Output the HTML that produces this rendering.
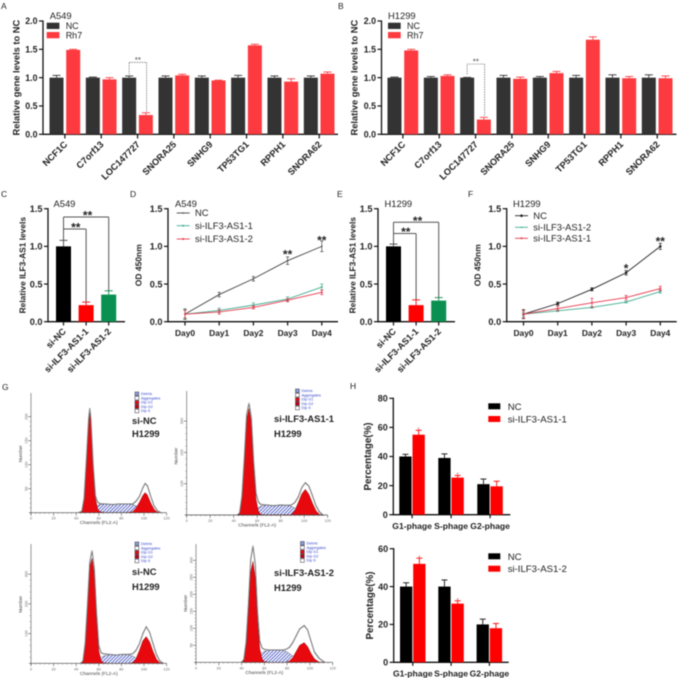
<!DOCTYPE html>
<html>
<head>
<meta charset="utf-8">
<style>
html,body{margin:0;padding:0;background:#fff;}
svg{display:block;font-family:"Liberation Sans",sans-serif;filter:blur(0.4px);}
</style>
</head>
<body>
<svg id="fig" width="681" height="678" viewBox="0 0 681 678" xmlns="http://www.w3.org/2000/svg">
<defs>
<pattern id="hatch" width="2.4" height="2.4" patternUnits="userSpaceOnUse" patternTransform="rotate(45)">
<rect width="2.4" height="2.4" fill="#fff"/>
<rect width="1" height="2.4" fill="#5a68c8"/>
</pattern>
</defs>
</svg>
<script>
// Panel A / B
var geneNames = ['NCF1C','C7orf13','LOC147727','SNORA25','SNHG9','TP53TG1','RPPH1','SNORA62'];
var a549Nc = [1,1,1,1,1,1,1,1];
var a549NcErr = [0.04,0.01,0.03,0.03,0.03,0.04,0.03,0.03];
var a549Rh7 = [1.49,0.97,0.34,1.04,0.95,1.57,0.93,1.07];
var a549Rh7Err = [0.01,0.03,0.04,0.02,0.005,0.02,0.05,0.03];
var h1299Nc = [1,1,1,1,1,1,1,1];
var h1299NcErr = [0.01,0.02,0.005,0.04,0.02,0.04,0.05,0.05];
var h1299Rh7 = [1.48,1.03,0.26,0.98,1.08,1.67,0.99,0.99];
var h1299Rh7Err = [0.02,0.02,0.04,0.03,0.03,0.05,0.03,0.04];
var geneTicks = [0,0.5,1,1.5,2];
// Panel C / E
var knockdownNames = ['si-NC','si-ILF3-AS1-1','si-ILF3-AS1-2'];
var a549Knockdown = [1,0.22,0.36];
var a549KnockdownErr = [0.08,0.04,0.05];
var h1299Knockdown = [1,0.22,0.28];
var h1299KnockdownErr = [0.03,0.07,0.04];
var levelTicks = [0,0.5,1,1.5];
// Panel D / F
var dayNames = ['Day0','Day1','Day2','Day3','Day4'];
var dNc = [0.1,0.36,0.57,0.81,1.0];
var dNcErr = [0.07,0.03,0.03,0.05,0.07];
var dSi1 = [0.1,0.15,0.22,0.30,0.46];
var dSi1Err = [0.06,0.03,0.03,0.03,0.04];
var dSi2 = [0.1,0.13,0.19,0.285,0.39];
var dSi2Err = [0.05,0.03,0.02,0.02,0.03];
var fNc = [0.1,0.24,0.43,0.65,1.0];
var fNcErr = [0.06,0.02,0.02,0.03,0.04];
var fSi2 = [0.1,0.145,0.19,0.26,0.40];
var fSi2Err = [0.03,0.01,0.01,0.01,0.02];
var fSi1 = [0.1,0.175,0.25,0.32,0.44];
var fSi1Err = [0.05,0.03,0.06,0.03,0.03];
// Panel H
var phaseNames = ['G1-phage','S-phage','G2-phage'];
var h1Nc = [40,39,21];
var h1NcErr = [1.5,2.8,3.5];
var h1Si = [55,25.5,19.5];
var h1SiErr = [3,1.5,3.5];
var h1Ticks = [0,20,40,60,80];
var h2Nc = [40,40,20];
var h2NcErr = [2,3.5,2.8];
var h2Si = [52,31,18];
var h2SiErr = [3,1.5,2.5];
var h2Ticks = [0,20,40,60];
// Panel G flow histograms
var flowLegendNames = ['Debris','Aggregates','Dip G1','Dip G2','Dip S'];
var flowChannelTicks = [0,20,40,60,80,100,120];
var flow1Channels = [42,45,47,49,51,52,53,55,57,59,61,66,72,78,84,90,93,96,99,101,103,106,109,112,115];
var flow1Total = [0,3,30,110,195,218,195,100,35,22,19,18,17,18,18,18,24,34,52,61,56,34,14,4,0];
var flow1G1 = [0,2,28,105,190,210,190,95,30,8,2,0,0,0,0,0,0,0,0,0,0,0,0,0,0];
var flow1G2 = [0,0,0,0,0,0,0,0,0,0,0,0,0,0,0,2,10,22,36,42,37,20,7,1,0];
var flow1S = [0,0,0,2,6,8,9,11,13,15,17,18,17,18,18,17,14,11,8,5,3,1,0,0,0];
var flow1Ticks = [50,100,150,200];
var flow2Channels = [43,45,47,49,51,53,55,57,59,61,63,68,74,80,85,89,92,95,98,101,104,107,110,113,116];
var flow2Total = [0,6,60,180,320,358,310,170,70,42,34,32,30,32,31,32,40,58,88,103,92,62,30,10,0];
var flow2G1 = [0,5,55,170,305,340,295,150,50,12,2,0,0,0,0,0,0,0,0,0,0,0,0,0,0];
var flow2G2 = [0,0,0,0,0,0,0,0,0,0,0,0,0,0,0,1,14,40,68,82,66,38,14,2,0];
var flow2S = [0,0,0,3,8,10,12,15,20,24,28,32,30,32,31,28,22,16,10,6,3,1,0,0,0];
var flow2Ticks = [100,200,300];
var flow3Channels = [44,46,48,50,52,54,56,58,60,62,64,69,75,81,86,90,93,96,99,102,105,108,111,114,117];
var flow3Total = [0,8,70,200,340,380,320,170,60,36,32,30,28,30,30,32,44,66,100,123,104,66,30,8,0];
var flow3G1 = [0,6,65,190,325,353,300,150,42,10,2,0,0,0,0,0,0,0,0,0,0,0,0,0,0];
var flow3G2 = [0,0,0,0,0,0,0,0,0,0,0,0,0,0,0,2,16,44,76,90,72,40,14,2,0];
var flow3S = [0,0,0,2,6,8,10,13,16,20,24,29,28,30,29,24,18,12,8,4,2,1,0,0,0];
var flow3Ticks = [100,200,300];
var flow4Channels = [40,42,44,46,48,50,52,54,56,58,60,65,70,75,79,82,85,88,91,95,98,101,104,108,113];
var flow4Total = [0,8,60,170,300,343,290,150,62,42,38,36,36,36,38,44,58,78,98,108,95,62,30,12,0];
var flow4G1 = [0,6,50,150,265,297,250,120,40,10,2,0,0,0,0,0,0,0,0,0,0,0,0,0,0];
var flow4G2 = [0,0,0,0,0,0,0,0,0,0,0,0,0,0,0,4,14,32,50,58,46,26,10,1,0];
var flow4S = [0,0,0,2,8,12,16,20,24,28,32,36,36,36,32,26,18,12,8,4,2,1,0,0,0];
var flow4Ticks = [50,100,150,200,250,300];

var svg = document.getElementById('fig');
var NS = 'http://www.w3.org/2000/svg';
function el(tag, name, props, parent) {
  var e = document.createElementNS(NS, tag);
  
  
  for (var k in props) e.setAttribute(k, props[k]);
  (parent || svg).appendChild(e);
  return e;
}
function txt(name, s, x, y, size, opts, parent) {
  var p = {x:x, y:y, 'font-size':size, fill:'#222'};
  for (var k in (opts||{})) p[k] = opts[k];
  var t = el('text', name, p, parent);
  t.textContent = s;
  return t;
}
function line(name, x1, y1, x2, y2, stroke, w, parent, dash) {
  var p = {x1:x1, y1:y1, x2:x2, y2:y2, stroke:stroke, 'stroke-width':w};
  if (dash) p['stroke-dasharray'] = dash;
  return el('line', name, p, parent);
}
function rect(name, x, y, w, h, fill, parent) {
  return el('rect', name, {x:x, y:y, width:w, height:h, fill:fill}, parent);
}
function yScale(y0, yTop, vMax) {
  return function(v) { return y0 - (v / vMax) * (y0 - yTop); };
}
function yAxis(prefix, x, ys, x2, y0, ticks, fmt, size, title, titleX, titleSize, parent) {
  line(prefix + '-y-axis', x, ys(ticks[ticks.length-1]) - 0.6, x, y0 + 0.6, '#111', 1.3, parent);
  line(prefix + '-x-axis', x, y0, x2, y0, '#111', 1.3, parent);
  ticks.forEach(function(t) {
    line(prefix + '-y-tick', x - 4, ys(t), x, ys(t), '#111', 1.2, parent);
    txt(prefix + '-y-tick-label', fmt(t), x - 5.5, ys(t) + size * 0.36, size, {'text-anchor':'end','font-weight':'bold'}, parent);
  });
  var cy = (ys(ticks[ticks.length-1]) + y0) / 2;
  txt(prefix + '-y-axis-title', title, titleX, cy, titleSize, {'text-anchor':'middle','font-weight':'bold',transform:'rotate(-90 ' + titleX + ' ' + cy + ')'}, parent);
}
function errUp(name, cx, ys, v, e, hw, color, parent) {
  line(name, cx, ys(v), cx, ys(v + e), color, 0.9, parent);
  line(name + '-cap', cx - hw, ys(v + e), cx + hw, ys(v + e), color, 0.9, parent);
}
function fix1(t) { return t.toFixed(1); }
function int0(t) { return String(t); }

function genePanel(prefix, cfg) {
  var g = el('g', prefix, {});
  var ys = yScale(134.3, 21, 2);
  yAxis(prefix, cfg.ax, ys, cfg.ax + 295, 134.3, geneTicks, fix1, 8.8, 'Relative gene levels to NC', cfg.titleX, 9.3, g);
  geneNames.forEach(function(n, i) {
    var xn = cfg.x0 + i * 36.33, xr = xn + 16.7, w = 14;
    errUp(prefix + '-nc-error', xn + w/2, ys, cfg.nc[i], cfg.ncE[i], 4, '#333', g);
    rect(prefix + '-nc-bar', xn, ys(cfg.nc[i]), w, 134.3 - ys(cfg.nc[i]), '#333333', g);
    errUp(prefix + '-rh7-error', xr + w/2, ys, cfg.rh[i], cfg.rhE[i], 4, '#fc3a3f', g);
    rect(prefix + '-rh7-bar', xr, ys(cfg.rh[i]), w, 134.3 - ys(cfg.rh[i]), '#fc3a3f', g);
    var tx = xn + 15.4;
    line(prefix + '-x-tick', tx, 134.3, tx, 138.5, '#111', 1.2, g);
    txt(prefix + '-x-label', n, tx + 3, 145, 9.2, {'text-anchor':'end','font-weight':'bold',transform:'rotate(-45 ' + (tx + 3) + ' 145)'}, g);
  });
  var bl = cfg.x0 + 2 * 36.33 + 7, br = bl + 16.9 + 0.6;
  var by = ys(cfg.brk);
  line(prefix + '-significance-left', bl, ys(1.06), bl, by, '#666', 0.7, g, '1.5 1');
  line(prefix + '-significance-top', bl, by, br, by, '#666', 0.7, g, '1.5 1');
  line(prefix + '-significance-right', br, by, br, ys(cfg.rh[2] + cfg.rhE[2] + 0.02), '#666', 0.7, g, '1.5 1');
  txt(prefix + '-significance-stars', '**', (bl + br)/2, by + 0.5, 8, {'text-anchor':'middle',fill:'#555'}, g);
  txt(prefix + '-cell-line', cfg.cell, cfg.ax + cfg.cellOff, 19, 9.4, {}, g);
  rect(prefix + '-legend-nc-swatch', cfg.ax + cfg.legOff, 22.7, 12.7, 6.3, '#333333', g);
  txt(prefix + '-legend-nc', 'NC', cfg.ax + cfg.legOff + 19, 29.2, 9, {}, g);
  rect(prefix + '-legend-rh7-swatch', cfg.ax + cfg.legOff, 32, 12.7, 6.3, '#fc3a3f', g);
  txt(prefix + '-legend-rh7', 'Rh7', cfg.ax + cfg.legOff + 19, 38.5, 9, {}, g);
}
genePanel('panel-a', {ax:43, titleX:19.5, x0:49.5, nc:a549Nc, ncE:a549NcErr, rh:a549Rh7, rhE:a549Rh7Err, brk:1.27, cell:'A549', legOff:3.7, cellOff:6.7});
genePanel('panel-b', {ax:381.5, titleX:357.5, x0:387.5, nc:h1299Nc, ncE:h1299NcErr, rh:h1299Rh7, rhE:h1299Rh7Err, brk:1.24, cell:'H1299', legOff:6.5, cellOff:6.5});

function kdPanel(prefix, cfg) {
  var g = el('g', prefix, {});
  var ys = yScale(321.7, 208.7, 1.5);
  yAxis(prefix, cfg.ax, ys, cfg.ax + 77, 321.7, levelTicks, fix1, 9.2, 'Relative ILF3-AS1 levels', cfg.titleX, 8.4, g);
  var colors = ['#000000','#ff0000','#0a9050'];
  knockdownNames.forEach(function(n, i) {
    var x = cfg.ax + 8 + i * 22.6, w = 15, cx = x + w/2;
    errUp(prefix + '-error', cx, ys, cfg.v[i], cfg.e[i], 4, i === 0 ? '#444' : colors[i], g);
    rect(prefix + '-bar', x, ys(cfg.v[i]), w, 321.7 - ys(cfg.v[i]), colors[i], g);
    line(prefix + '-x-tick', cx, 321.7, cx, 325.5, '#111', 1.2, g);
    txt(prefix + '-x-label', n, cx + 3, 332, 9.1, {'text-anchor':'end','font-weight':'bold',transform:'rotate(-45 ' + (cx + 3) + ' 332)'}, g);
  });
  var c0 = cfg.ax + 15.5, c1 = c0 + 22.6, c2 = c0 + 45.2;
  var yIn = ys(cfg.inner), yOut = ys(cfg.outer);
  line(prefix + '-bracket-left', c0, yOut, c0, ys(cfg.v[0] + cfg.e[0]), '#555', 1, g);
  line(prefix + '-bracket-outer', c0, yOut, c2, yOut, '#555', 1, g);
  line(prefix + '-bracket-outer-drop', c2, yOut, c2, ys(cfg.v[2] + cfg.e[2]), '#555', 1, g);
  line(prefix + '-bracket-inner', c0, yIn, c1, yIn, '#555', 1, g);
  line(prefix + '-bracket-inner-drop', c1, yIn, c1, ys(cfg.v[1] + cfg.e[1]), '#555', 1, g);
  txt(prefix + '-stars-inner', '**', (c0 + c1)/2 + 1, yIn + 2.6, 12, {'text-anchor':'middle','font-weight':'bold'}, g);
  txt(prefix + '-stars-outer', '**', (c0 + c2)/2 + 1.5, yOut + 2.6, 12, {'text-anchor':'middle','font-weight':'bold'}, g);
  txt(prefix + '-cell-line', cfg.cell, cfg.labelX, 207, 9.4, {}, g);
}
kdPanel('panel-c', {ax:48, titleX:25.5, v:a549Knockdown, e:a549KnockdownErr, inner:1.23, outer:1.39, cell:'A549', labelX:53.5});
kdPanel('panel-e', {ax:378, titleX:355.5, v:h1299Knockdown, e:h1299KnockdownErr, inner:1.17, outer:1.32, cell:'H1299', labelX:384.5});

function linePanel(prefix, cfg) {
  var g = el('g', prefix, {});
  var ys = yScale(321.7, 208.7, 1.5);
  yAxis(prefix, cfg.ax, ys, cfg.ax + 170, 321.7, levelTicks, fix1, 9.2, 'OD 450nm', cfg.titleX, 8.5, g);
  function xs(i) { return cfg.x0 + i * 34.2; }
  dayNames.forEach(function(d, i) {
    line(prefix + '-x-tick', xs(i), 321.7, xs(i), 325.5, '#111', 1.2, g);
    txt(prefix + '-x-label', d, xs(i), 336, 8.4, {'text-anchor':'middle','font-weight':'bold'}, g);
  });
  cfg.series.forEach(function(s, si) {
    var pts = s.v.map(function(v, i) { return xs(i) + ',' + ys(v); }).join(' ');
    el('polyline', prefix + '-series-line', {points:pts, fill:'none', stroke:s.c, 'stroke-width':0.9}, g);
    s.v.forEach(function(v, i) {
      line(prefix + '-error', xs(i), ys(v - s.e[i]), xs(i), ys(v + s.e[i]), s.c, 0.7, g);
      line(prefix + '-error-cap', xs(i) - 1.6, ys(v + s.e[i]), xs(i) + 1.6, ys(v + s.e[i]), s.c, 0.7, g);
      line(prefix + '-error-cap', xs(i) - 1.6, ys(v - s.e[i]), xs(i) + 1.6, ys(v - s.e[i]), s.c, 0.7, g);
      el('circle', prefix + '-point', {cx:xs(i), cy:ys(v), r:s.r, fill:s.c}, g);
    });
    var ly = cfg.legendY[si];
    line(prefix + '-legend-line', cfg.legX, ly, cfg.legX + 13, ly, s.c, 0.9, g);
    el('circle', prefix + '-legend-marker', {cx:cfg.legX + 6.5, cy:ly, r:s.r, fill:s.c}, g);
    txt(prefix + '-legend-label', s.n, cfg.legX + 18.3, ly + 3.2, 9.4, {}, g);
  });
  cfg.stars.forEach(function(st) {
    txt(prefix + '-significance', st.t, xs(st.i), st.y + 6.6, 12, {'text-anchor':'middle','font-weight':'bold'}, g);
  });
  txt(prefix + '-cell-line', cfg.cell, cfg.cellX, 207, 9.4, {}, g);
}
linePanel('panel-d', {ax:168, titleX:141.5, x0:185, legX:176.7, legendY:[213,225.7,239], cell:'A549', cellX:175,
  stars:[{t:'**',i:3,y:251.7},{t:'**',i:4,y:238}],
  series:[{n:'NC',v:dNc,e:dNcErr,c:'#444444',r:0.8},{n:'si-ILF3-AS1-1',v:dSi1,e:dSi1Err,c:'#3fae90',r:1},{n:'si-ILF3-AS1-2',v:dSi2,e:dSi2Err,c:'#e8394f',r:1}]});
linePanel('panel-f', {ax:506.7, titleX:480.5, x0:523.5, legX:515, legendY:[215.7,227.3,238.3], cell:'H1299', cellX:513,
  stars:[{t:'*',i:3,y:266},{t:'**',i:4,y:239}],
  series:[{n:'NC',v:fNc,e:fNcErr,c:'#222222',r:1.3},{n:'si-ILF3-AS1-2',v:fSi2,e:fSi2Err,c:'#3fae90',r:0.8},{n:'si-ILF3-AS1-1',v:fSi1,e:fSi1Err,c:'#e8394f',r:1}]});

function phasePanel(prefix, cfg) {
  var g = el('g', prefix, {});
  var ys = yScale(cfg.y0, cfg.yTop, cfg.ticks[cfg.ticks.length-1]);
  yAxis(prefix, cfg.ax, ys, cfg.ax + cfg.len, cfg.y0, cfg.ticks, int0, 9, 'Percentage(%)', cfg.titleX, 9.8, g);
  phaseNames.forEach(function(n, i) {
    var xn = cfg.x0 + i * cfg.step, w = 12.3, xr = xn + 13.2;
    errUp(prefix + '-nc-error', xn + w/2, ys, cfg.nc[i], cfg.ncE[i], 3, '#111', g);
    rect(prefix + '-nc-bar', xn, ys(cfg.nc[i]), w, cfg.y0 - ys(cfg.nc[i]), '#000000', g);
    errUp(prefix + '-si-error', xr + w/2, ys, cfg.si[i], cfg.siE[i], 3, '#f00', g);
    rect(prefix + '-si-bar', xr, ys(cfg.si[i]), w, cfg.y0 - ys(cfg.si[i]), '#ff0000', g);
    var tx = xn + 12.8;
    line(prefix + '-x-tick', tx, cfg.y0, tx, cfg.y0 + 3.5, '#111', 1.2, g);
    txt(prefix + '-x-label', n, tx, cfg.labelY, 8.6, {'text-anchor':'middle','font-weight':'bold'}, g);
    if (i < 2) txt(prefix + '-significance', '*', xr + w/2, ys(cfg.si[i] + cfg.siE[i]) + 1.2, 5, {'text-anchor':'middle',fill:'#c33'}, g);
  });
  rect(prefix + '-legend-nc-swatch', 488.3, cfg.leg1, 12, 6, '#000000', g);
  txt(prefix + '-legend-nc', 'NC', 507.7, cfg.leg1 + 6.5, 9.6, {}, g);
  rect(prefix + '-legend-si-swatch', 488.3, cfg.leg2, 12, 6, '#ff0000', g);
  txt(prefix + '-legend-si', cfg.siName, 507.7, cfg.leg2 + 6.5, 9.6, {}, g);
}
phasePanel('panel-h-top', {ax:393.3, len:117, y0:514.7, yTop:398.3, ticks:h1Ticks, x0:399.3, step:39, nc:h1Nc, ncE:h1NcErr, si:h1Si, siE:h1SiErr, titleX:371, labelY:529, leg1:403.3, leg2:416, siName:'si-ILF3-AS1-1'});
phasePanel('panel-h-bottom', {ax:393.7, len:115, y0:662.3, yTop:548.7, ticks:h2Ticks, x0:400, step:38.3, nc:h2Nc, ncE:h2NcErr, si:h2Si, siE:h2SiErr, titleX:373, labelY:676.5, leg1:553.3, leg2:565.7, siName:'si-ILF3-AS1-2'});

function flowPanel(prefix, cfg) {
  var g = el('g', prefix, {style:'filter:blur(0.3px)'});
  function xs(c) { return cfg.ax + c * cfg.pxPerChannel; }
  function ys(n) { return cfg.y0 - n * cfg.pxPerCount; }
  function poly(arr) {
    var pts = [xs(cfg.ch[0]) + ',' + ys(0)];
    arr.forEach(function(v, i) { pts.push(xs(cfg.ch[i]) + ',' + ys(v)); });
    pts.push(xs(cfg.ch[cfg.ch.length-1]) + ',' + ys(0));
    return pts.join(' ');
  }
  el('polygon', prefix + '-s-phase', {points:poly(cfg.s), fill:'url(#hatch)', stroke:'#334', 'stroke-width':0.4}, g);
  el('polygon', prefix + '-g1-peak', {points:poly(cfg.g1), fill:'#e8090f', stroke:'#700', 'stroke-width':0.4}, g);
  el('polygon', prefix + '-g2-peak', {points:poly(cfg.g2), fill:'#e8090f', stroke:'#700', 'stroke-width':0.4}, g);
  el('polyline', prefix + '-outline-outer', {points:poly(cfg.total), fill:'none', stroke:'#333', 'stroke-width':1}, g);
  el('polyline', prefix + '-outline-inner', {points:poly(cfg.total), fill:'none', stroke:'#eee', 'stroke-width':0.35}, g);
  // axes
  line(prefix + '-y-axis', cfg.ax, cfg.yTop, cfg.ax, cfg.y0 + 2, '#555', 0.6, g);
  line(prefix + '-x-axis', cfg.ax - 2, cfg.y0, xs(120), cfg.y0, '#444', 0.7, g);
  flowChannelTicks.forEach(function(t) {
    line(prefix + '-x-tick', xs(t), cfg.y0, xs(t), cfg.y0 + 3, '#555', 0.6, g);
    txt(prefix + '-x-tick-label', String(t), xs(t), cfg.y0 + 7, 3.8, {'text-anchor':'middle',fill:'#666'}, g);
    for (var m = 1; m < 5 && t < 120; m++) {
      line(prefix + '-x-minor-tick', xs(t + m * 4), cfg.y0, xs(t + m * 4), cfg.y0 + 1.5, '#777', 0.4, g);
    }
  });
  cfg.ticks.forEach(function(t) {
    line(prefix + '-y-tick', cfg.ax - 3, ys(t), cfg.ax, ys(t), '#555', 0.6, g);
    var ty = ys(t);
    txt(prefix + '-y-tick-label', String(t), cfg.ax - 4.5, ty + 1, 3.8, {'text-anchor':'middle',fill:'#666',transform:'rotate(-90 ' + (cfg.ax - 4.5) + ' ' + ty + ')'}, g);
    for (var m = 1; m < 5; m++) {
      var my = ys(t - m * cfg.ticks[0] / 5);
      line(prefix + '-y-minor-tick', cfg.ax - 1.5, my, cfg.ax, my, '#777', 0.4, g);
    }
  });
  txt(prefix + '-x-axis-title', 'Channels (FL2-A)', xs(60), cfg.y0 + 11.5, 4.8, {'text-anchor':'middle',fill:'#444'}, g);
  var nx = cfg.ax - 9, ny = cfg.y0 - 59;
  txt(prefix + '-y-axis-title', 'Number', nx, ny, 4.8, {'text-anchor':'middle',fill:'#444',transform:'rotate(-90 ' + nx + ' ' + ny + ')'}, g);
  // legend
  var sw = ['#8a9bd0','#ffffff','#e8090f','#c00010','#ffffff'];
  flowLegendNames.forEach(function(n, i) {
    var ly = cfg.legY + i * 4.3;
    el('rect', prefix + '-legend-swatch', {x:cfg.legX, y:ly, width:3.8, height:3.6, fill:sw[i], stroke:'#334', 'stroke-width':0.5}, g);
    txt(prefix + '-legend-label', n, cfg.legX + 6, ly + 3, 3.8, {fill:'#3344cc'}, g);
  });
  txt(prefix + '-condition', cfg.cond, cfg.lblX, cfg.lbl1, 9.4, {'font-weight':'bold',fill:'#222'}, svg);
  txt(prefix + '-cell-line', 'H1299', cfg.lblX, cfg.lbl2, 9.4, {'font-weight':'bold',fill:'#222'}, svg);
}
flowPanel('flow-si-nc-top', {ax:31, y0:512.7, yTop:393, pxPerChannel:1.13, pxPerCount:0.48, ch:flow1Channels, total:flow1Total, g1:flow1G1, g2:flow1G2, s:flow1S, ticks:flow1Ticks, legX:135, legY:392, cond:'si-NC', lblX:132, lbl1:424, lbl2:437});
flowPanel('flow-si-1', {ax:186.7, y0:515, yTop:391, pxPerChannel:1.175, pxPerCount:0.313, ch:flow2Channels, total:flow2Total, g1:flow2G1, g2:flow2G2, s:flow2S, ticks:flow2Ticks, legX:295.5, legY:389, cond:'si-ILF3-AS1-1', lblX:274, lbl1:422, lbl2:437});
flowPanel('flow-si-nc-bottom', {ax:31, y0:663.3, yTop:544, pxPerChannel:1.13, pxPerCount:0.297, ch:flow3Channels, total:flow3Total, g1:flow3G1, g2:flow3G2, s:flow3S, ticks:flow3Ticks, legX:135, legY:542, cond:'si-NC', lblX:132, lbl1:575, lbl2:590});
flowPanel('flow-si-2', {ax:196, y0:662.3, yTop:544, pxPerChannel:1.139, pxPerCount:0.34, ch:flow4Channels, total:flow4Total, g1:flow4G1, g2:flow4G2, s:flow4S, ticks:flow4Ticks, legX:300.5, legY:541.5, cond:'si-ILF3-AS1-2', lblX:274, lbl1:576, lbl2:591});

var letters = [['A',1,9],['B',338,9],['C',1,197],['D',130,197],['E',337,197],['F',468,197],['G',2,390],['H',350,389]];
letters.forEach(function(l) {
  txt('panel-letter-' + l[0].toLowerCase(), l[0], l[1], l[2], 8.5, {fill:'#222'});
});
</script>
</body>
</html>
